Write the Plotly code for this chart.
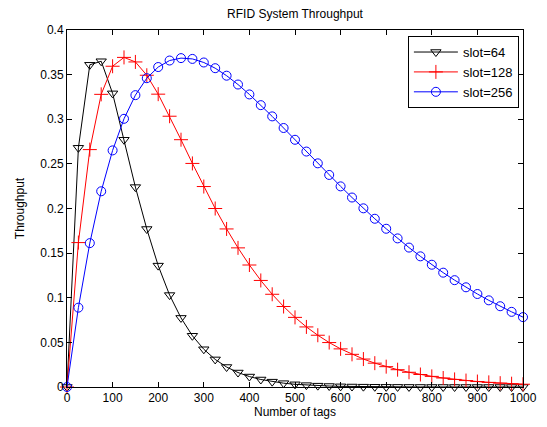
import plotly.graph_objects as go

# Number of tags (x positions of the samples)
tags = [0, 25, 50, 75, 100, 125, 150, 175, 200, 225, 250, 275, 300, 325, 350, 375,
        400, 425, 450, 475, 500, 525, 550, 575, 600, 625, 650, 675, 700, 725, 750,
        775, 800, 825, 850, 875, 900, 925, 950, 975, 1000]

slot64 = [0, 0.268, 0.361, 0.365, 0.329, 0.277, 0.224, 0.177, 0.136, 0.103, 0.0774,
          0.0574, 0.0423, 0.0309, 0.0224, 0.0162, 0.0117, 0.0084, 0.0060, 0.0043,
          0.0030, 0.0021, 0.0015, 0.0011, 0.00075, 0.00053, 0.00037, 0.00026,
          0.00018, 0.00013, 0.00009, 0.00006, 0.00004, 0.00003, 0.00002, 0.00001,
          0.00001, 0.000007, 0.000005, 0.000003, 0.000002]

slot128 = [0, 0.1618, 0.2660, 0.3279, 0.3594, 0.3693, 0.3642, 0.3493, 0.3281, 0.3034,
           0.2771, 0.2505, 0.2246, 0.2000, 0.1771, 0.1559, 0.1367, 0.1194, 0.1039,
           0.0902, 0.0780, 0.0673, 0.0580, 0.0498, 0.0427, 0.0366, 0.0313, 0.0267,
           0.0228, 0.0194, 0.0165, 0.0140, 0.0119, 0.0101, 0.0085, 0.0072, 0.0061,
           0.0052, 0.0043, 0.0037, 0.0031]

slot256 = [0, 0.0889, 0.1612, 0.2193, 0.2651, 0.3005, 0.3270, 0.3460, 0.3585, 0.3658,
           0.3685, 0.3676, 0.3636, 0.3572, 0.3488, 0.3389, 0.3278, 0.3158, 0.3032,
           0.2902, 0.2770, 0.2638, 0.2506, 0.2376, 0.2248, 0.2123, 0.2002, 0.1885,
           0.1773, 0.1665, 0.1562, 0.1464, 0.1370, 0.1281, 0.1197, 0.1117, 0.1042,
           0.0971, 0.0905, 0.0842, 0.0783]

x_ticks = [0, 100, 200, 300, 400, 500, 600, 700, 800, 900, 1000]
y_ticks = [0, 0.05, 0.1, 0.15, 0.2, 0.25, 0.3, 0.35, 0.4]
y_tick_labels = ["0", "0.05", "0.1", "0.15", "0.2", "0.25", "0.3", "0.35", "0.4"]

FONT = "Arial, 'Liberation Sans', sans-serif"

# page body has an 8px margin, so the figure is sized to fit inside the window
W, H = 531, 411

fig = go.Figure()
fig.add_trace(go.Scatter(
    x=tags, y=slot64, name="slot=64", mode="lines+markers",
    line=dict(color="black", width=1),
    marker=dict(symbol="triangle-down-open", size=9, color="black", line=dict(width=1)),
    cliponaxis=False))
fig.add_trace(go.Scatter(
    x=tags, y=slot128, name="slot=128", mode="lines+markers",
    line=dict(color="red", width=1),
    marker=dict(symbol="cross-thin-open", size=10, color="red", line=dict(width=1, color="red")),
    cliponaxis=False))
fig.add_trace(go.Scatter(
    x=tags, y=slot256, name="slot=256", mode="lines+markers",
    line=dict(color="blue", width=1),
    marker=dict(symbol="circle-open", size=9, color="blue", line=dict(width=1)),
    cliponaxis=False))

fig.update_layout(
    width=W, height=H,
    margin=dict(l=59, r=16, t=22, b=32, autoexpand=False),
    paper_bgcolor="white", plot_bgcolor="white",
    font=dict(family=FONT, size=12, color="black"),
    title=dict(text="RFID System Throughput", x=287 / W, xanchor="center",
               y=1 - 6 / H, yanchor="middle", font=dict(size=12, color="black")),
    showlegend=True,
    legend=dict(x=0.991, y=0.983, xanchor="right", yanchor="top",
                bgcolor="white", bordercolor="black", borderwidth=1,
                font=dict(size=13, color="black"), tracegroupgap=0,
                itemwidth=44),
)
fig.update_xaxes(range=[0, 1000], tickvals=x_ticks, ticks="inside", ticklen=5,
                 showline=True, linecolor="black", linewidth=1, mirror="ticks",
                 showgrid=False, zeroline=False, tickcolor="black", automargin=False,
                 title=dict(text="Number of tags", standoff=1, font=dict(size=12)))
fig.update_yaxes(range=[0, 0.4], tickvals=y_ticks, ticktext=y_tick_labels,
                 ticks="inside", ticklen=5, automargin=False,
                 showline=True, linecolor="black", linewidth=1, mirror="ticks",
                 showgrid=False, zeroline=False, tickcolor="black",
                 title=dict(text="Throughput", standoff=13, font=dict(size=12)))

fig.write_html("out.html")
